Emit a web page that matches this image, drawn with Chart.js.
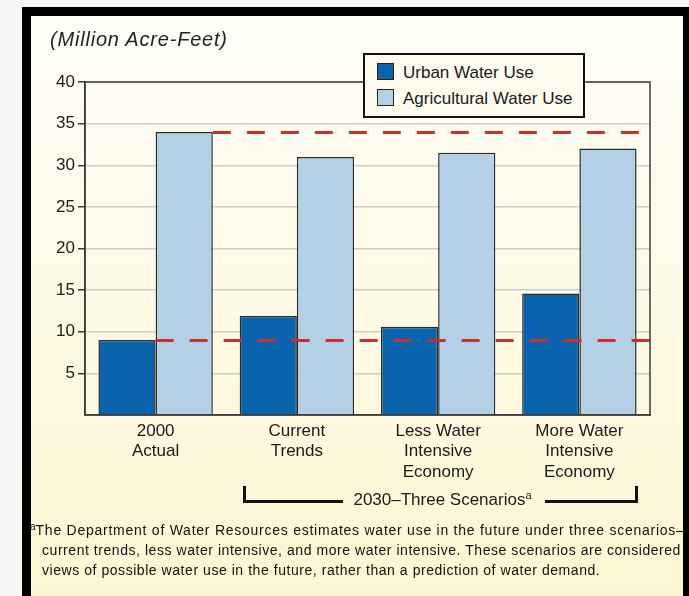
<!DOCTYPE html>
<html>
<head>
<meta charset="utf-8">
<script src="https://cdn.jsdelivr.net/npm/chart.js@4.4.1/dist/chart.umd.min.js"></script>
<style>
  html, body { margin: 0; padding: 0; }
  body { width: 689px; height: 596px; position: relative; overflow: hidden; background: #f6f6f4; font-family: "Liberation Sans", Arial, sans-serif; color: #1a1a1a; }
  #frame { position: absolute; left: 22px; top: 7px; width: 667px; height: 589px; background: #000; }
  #panel { position: absolute; left: 31px; top: 16px; width: 652px; height: 580px;
           background: linear-gradient(to bottom, #fefdf6 0%, #fdfae8 45%, #fdf6d2 100%); }
  #wrap { position: absolute; left: 0; top: 0; width: 689px; height: 596px; }
  #title { position: absolute; left: 50px; top: 28px; font-size: 20px; letter-spacing: 0.8px; font-style: italic; color: #222; white-space: nowrap; }
  #legend { position: absolute; left: 363px; top: 53px; width: 218px; height: 61px; border: 2px solid #111; background: #fdfbee; }
  .li { position: absolute; left: 12px; font-size: 17px; white-space: nowrap; color: #1a1a1a; }
  .sw { display: inline-block; width: 15px; height: 15px; border: 1px solid #222; vertical-align: -2px; margin-right: 9px; }
  .br { position: absolute; top: 486px; height: 14px; border-bottom: 3px solid #111; }
  #brL { left: 243px; width: 97px; border-left: 3px solid #111; }
  #brR { left: 545px; width: 90px; border-right: 3px solid #111; }
  #brT { position: absolute; left: 340px; width: 205px; top: 490px; text-align: center; font-size: 17px; white-space: nowrap; color: #1a1a1a; }
  #brT sup { font-size: 11px; vertical-align: 6px; line-height: 0; }
  .fn { position: absolute; font-size: 14px; letter-spacing: 0.55px; white-space: nowrap; color: #111; }
  .fn sup { font-size: 10px; vertical-align: 5px; line-height: 0; letter-spacing: 0; }
</style>
</head>
<body>
<div id="frame"></div>
<div id="panel"></div>
<div id="wrap"><canvas id="c" width="689" height="596"></canvas></div>
<div id="title">(Million Acre-Feet)</div>
<div id="legend"></div>
<div class="br" id="brL"></div>
<div class="br" id="brR"></div>
<div id="brT">2030–Three Scenarios<sup>a</sup></div>
<div class="fn" id="fn1" style="left:30px;top:522px;letter-spacing:0.75px;"><sup>a</sup>The Department of Water Resources estimates water use in the future under three scenarios–</div>
<div class="fn" id="fn2" style="left:42px;top:542px;">current trends, less water intensive, and more water intensive. These scenarios are considered</div>
<div class="fn" id="fn3" style="left:42px;top:562px;">views of possible water use in the future, rather than a prediction of water demand.</div>
<script>
const categories = [["2000", "Actual"], ["Current", "Trends"], ["Less Water", "Intensive", "Economy"], ["More Water", "Intensive", "Economy"]];
const seriesNames = ["Urban Water Use", "Agricultural Water Use"];
const urbanUse = [9, 11.9, 10.6, 14.6];
const agriculturalUse = [34, 31, 31.5, 32];
const seriesColors = ["#0964ad", "#b3d0e6"];
const yTicks = [0, 5, 10, 15, 20, 25, 30, 35, 40];
const referenceLines = [34, 9]; // 2000 actual levels

// fixed geometry of the plot box
const PLOT = { left: 85, right: 650, top: 82, bottom: 415 };

// legend
const legendEl = document.getElementById('legend');
seriesNames.forEach((n, i) => {
  const d = document.createElement('div');
  d.className = 'li';
  d.style.top = (i === 0 ? 8 : 34) + 'px';
  d.innerHTML = '<span class="sw" style="background:' + seriesColors[i] + '"></span>' + n;
  legendEl.appendChild(d);
});

const refLinePlugin = {
  id: 'refLines',
  afterDatasetsDraw(chart) {
    const ctx = chart.ctx, area = chart.chartArea, y = chart.scales.y;
    const urbanBar = chart.getDatasetMeta(0).data[0];
    const agBar = chart.getDatasetMeta(1).data[0];
    const starts = [agBar.x + agBar.width / 2, urbanBar.x + urbanBar.width / 2];
    ctx.save();
    ctx.strokeStyle = '#c8302c';
    ctx.lineWidth = 3;
    ctx.setLineDash([18, 16]);
    referenceLines.forEach((v, i) => {
      const py = Math.round(y.getPixelForValue(v)) + 0.5;
      ctx.beginPath();
      ctx.moveTo(starts[i], py);
      ctx.lineTo(area.right, py);
      ctx.stroke();
    });
    ctx.restore();
  }
};

const boxPlugin = {
  id: 'box',
  afterDraw(chart) {
    const a = chart.chartArea, ctx = chart.ctx;
    ctx.save();
    ctx.strokeStyle = '#3a3a3a';
    ctx.lineWidth = 1.5;
    ctx.strokeRect(a.left, a.top, a.right - a.left, a.bottom - a.top);
    ctx.restore();
  }
};

new Chart(document.getElementById('c'), {
  type: 'bar',
  data: {
    labels: categories,
    datasets: [
      { label: seriesNames[0], data: urbanUse, backgroundColor: seriesColors[0], borderColor: '#2b2b2b', borderWidth: 1.5, categoryPercentage: 0.81, barPercentage: 1.0 },
      { label: seriesNames[1], data: agriculturalUse, backgroundColor: seriesColors[1], borderColor: '#2b2b2b', borderWidth: 1.5, categoryPercentage: 0.81, barPercentage: 1.0 }
    ]
  },
  options: {
    responsive: false,
    animation: false,
    devicePixelRatio: 1,
    layout: { padding: { left: 0, top: PLOT.top, right: 689 - PLOT.right, bottom: 596 - PLOT.bottom - 90 } },
    plugins: { legend: { display: false }, tooltip: { enabled: false } },
    scales: {
      x: {
        grid: { display: false, drawTicks: false },
        border: { display: true, color: '#3a3a3a', width: 1.5 },
        ticks: { color: '#1a1a1a', font: { family: 'Liberation Sans', size: 17 }, padding: 6, maxRotation: 0, autoSkip: false },
        afterFit(s) { s.height = 90; }
      },
      y: {
        min: 0, max: 40,
        afterBuildTicks(s) { s.ticks = yTicks.map(v => ({ value: v })); },
        grid: {
          color: ctx => (ctx.tick && ctx.tick.value === 0) ? 'rgba(0,0,0,0)' : '#cfcdc2',
          lineWidth: 1.5,
          tickLength: 7,
          tickColor: ctx => (ctx.tick && ctx.tick.value === 0) ? 'rgba(0,0,0,0)' : '#3a3a3a'
        },
        border: { display: true, color: '#3a3a3a', width: 1.5 },
        ticks: { color: '#1a1a1a', font: { family: 'Liberation Sans', size: 17 }, padding: 3,
                 callback: v => v === 0 ? '' : String(v) },
        afterFit(s) { s.width = PLOT.left; }
      }
    }
  },
  plugins: [refLinePlugin, boxPlugin]
});
</script>
</body>
</html>
